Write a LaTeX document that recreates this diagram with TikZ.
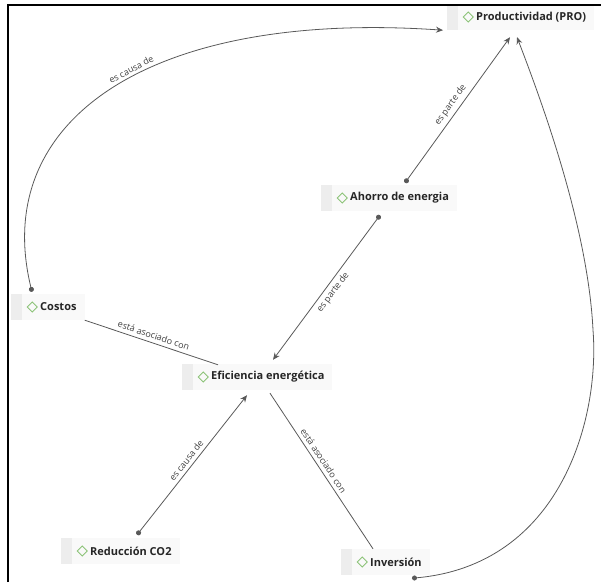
\documentclass[tikz,border=0pt]{standalone}
\usepackage{fontspec}
\setmainfont{Open Sans}
\usepackage{xcolor}
\usetikzlibrary{arrows.meta, calc}
\definecolor{cmapgreen}{RGB}{140,196,120}

\begin{document}
\begin{tikzpicture}[x=1pt, y=-1pt,
    concept/.style={anchor=west, rectangle, minimum height=26pt, inner xsep=8pt, fill=gray!5, text=black!85,
      font=\fontsize{11}{13}\selectfont\bfseries, execute at begin node={\hspace*{21pt}},
      path picture={\fill[gray!14] (path picture bounding box.north west) rectangle ([xshift=11pt]path picture bounding box.south west);
        \draw[cmapgreen, line width=0.9pt] ([xshift=16pt]path picture bounding box.west) -- ++(5,-5) -- ++(5,5) -- ++(-5,5) -- cycle;}},
    link/.style={draw=black!65, line width=0.8pt, {Circle[length=5pt]}-{Stealth[length=7pt,width=6pt]}},
    assoc/.style={draw=black!65, line width=0.8pt},
    phrase/.style={font=\fontsize{9}{10}\selectfont, text=black!75, sloped, inner sep=3.5pt}]
    \useasboundingbox (0,0) rectangle (601,582);

    \node[concept] (prod) at (447,17) {Productividad (PRO)}; \node[concept] (ahorro) at (321,198) {Ahorro de energia};
    \node[concept] (costos) at (11,307) {Costos}; \node[concept] (efic) at (182,377) {Eficiencia energética};
    \node[concept] (reduc) at (61,551) {Reducción CO2}; \node[concept] (inv) at (341,562) {Inversión};
    \coordinate (bend) at (593,330);

    \draw [link] ($(costos.north west)+(21,-2)$) .. controls (-10,120) and (150,10) .. node[phrase, above, pos=0.55] {es causa de} ($(prod.south west)+(-4,0)$);
    \draw [link] ($(ahorro.north west)+(84,-2)$) -- node[phrase, above] {es parte de} ($(prod.south west)+(63,7)$);
    \draw [link] ($(ahorro.south west)+(59,4)$) -- node[phrase, below] {es parte de} ($(efic.north west)+(91,-4)$);
    \draw [assoc] (costos.south east) -- node[phrase, above] {está asociado con} ($(efic.north west)+(36,1)$);
    \draw [link] ($(reduc.north west)+(76,-3)$) -- node[phrase, above] {es causa de} ($(efic.south west)+(65,5)$);
    \draw [assoc] ($(efic.south west)+(88,3)$) -- node[phrase, above, pos=0.46] {está asociado con} ($(inv.north west)+(32,0)$);
    \draw [link] ($(inv.south west)+(71,3)$) .. controls (560,565) and (600,420) .. (bend) .. controls (588,230) and (545,110) .. ($(prod.south west)+(70,7)$);

    \draw [line width=1.6pt] (8,582) -- (8,5) -- (601,5);
\end{tikzpicture}
\end{document}
